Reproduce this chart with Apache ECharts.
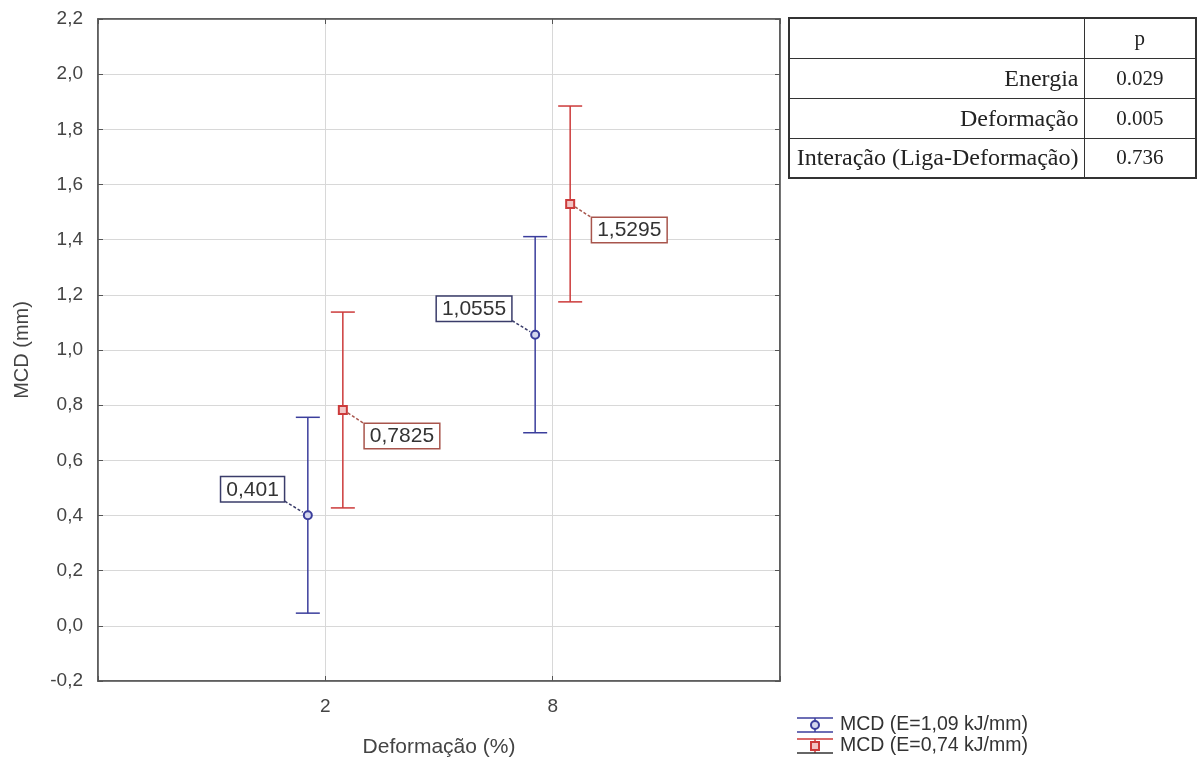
<!DOCTYPE html>
<html><head><meta charset="utf-8">
<script src="https://cdn.jsdelivr.net/npm/echarts@6/dist/echarts.min.js"></script>
<style>
html,body{margin:0;padding:0;background:#fff;}
#chart{position:absolute;left:0;top:0;width:1204px;height:763px;}
#tbl{position:absolute;left:788px;top:17px;width:409px;border-collapse:collapse;font-family:"Liberation Serif","Times New Roman",serif;color:#222;border:2px solid #333;}
#tbl td{border:1.5px solid #333;height:40px;padding:0 5px;box-sizing:border-box;white-space:nowrap;}
#tbl td.lab{text-align:right;width:295px;font-size:24px;}
#tbl td.val{text-align:center;font-size:21px;}
</style></head><body>
<div id="chart"></div>
<table id="tbl"></table>
<script>
// ---- data ----
const categories = ['2', '8'];
const seriesNames = ['MCD (E=1,09 kJ/mm)', 'MCD (E=0,74 kJ/mm)'];
const meanBlue = [0.401, 1.0555];
const lowBlue  = [0.046, 0.700];
const highBlue = [0.756, 1.411];
const meanRed  = [0.7825, 1.5295];
const lowRed   = [0.4275, 1.1745];
const highRed  = [1.1375, 1.8845];
const tableHeader = 'p';
const tableRows = ['Energia', 'Deformação', 'Interação (Liga-Deformação)'];
const tableP = ['0.029', '0.005', '0.736'];

// ---- table ----
const tbl = document.getElementById('tbl');
let html = '<tr><td class="lab"></td><td class="val">' + tableHeader + '</td></tr>';
tableRows.forEach((r, i) => { html += '<tr><td class="lab">' + r + '</td><td class="val">' + tableP[i] + '</td></tr>'; });
tbl.innerHTML = html;

// ---- chart ----
const BLUE = '#3b3e9c', RED = '#cc3a3a';
const BLUE_BOX = '#3a3c6a', RED_BOX = '#a8554c';
const OFFSET = 0.077;
const FONT = '"Liberation Sans", Arial, sans-serif';
const fmt = v => String(v).replace('.', ',');

function build(mean, low, high, dx) {
  return categories.map((c, i) => [i + 1 + dx, mean[i], low[i], high[i]]);
}

function makeRender(color, boxColor, shape, side) {
  return function (params, api) {
    const x = api.value(0), m = api.value(1), lo = api.value(2), hi = api.value(3);
    const p = api.coord([x, m]), pl = api.coord([x, lo]), ph = api.coord([x, hi]);
    const cw = 12;
    const ls = { stroke: color, lineWidth: 1.5 };
    const ch = [
      { type: 'line', shape: { x1: p[0], y1: pl[1], x2: p[0], y2: ph[1] }, style: ls },
      { type: 'line', shape: { x1: p[0] - cw, y1: pl[1], x2: p[0] + cw, y2: pl[1] }, style: ls },
      { type: 'line', shape: { x1: p[0] - cw, y1: ph[1], x2: p[0] + cw, y2: ph[1] }, style: ls }
    ];
    if (shape === 'circle') {
      ch.push({ type: 'circle', shape: { cx: p[0], cy: p[1], r: 4 }, style: { fill: '#d4d6ee', stroke: color, lineWidth: 2 } });
    } else {
      ch.push({ type: 'rect', shape: { x: p[0] - 4, y: p[1] - 4, width: 8, height: 8 }, style: { fill: '#f2c4c4', stroke: color, lineWidth: 2 } });
    }
    const dash = { stroke: boxColor, lineWidth: 1.5, lineDash: [3, 2] };
    const txt = { text: fmt(m), fill: '#333', font: '21px ' + FONT,
      backgroundColor: '#fff', borderColor: boxColor, borderWidth: 1.5, padding: [2, 5, 1, 5] };
    if (side === 'left') {
      ch.push({ type: 'line', shape: { x1: p[0] - 23, y1: p[1] - 14, x2: p[0] - 5, y2: p[1] - 3 }, style: dash });
      ch.push({ type: 'text', x: p[0] - 24, y: p[1] - 14, style: Object.assign({ align: 'right', verticalAlign: 'bottom' }, txt) });
    } else {
      ch.push({ type: 'line', shape: { x1: p[0] + 5, y1: p[1] + 3, x2: p[0] + 22, y2: p[1] + 14 }, style: dash });
      ch.push({ type: 'text', x: p[0] + 22, y: p[1] + 14, style: Object.assign({ align: 'left', verticalAlign: 'top' }, txt) });
    }
    return { type: 'group', children: ch };
  };
}

const axisCol = '#555';
const labelStyle = { color: '#444', fontSize: 19, fontFamily: FONT };
const chart = echarts.init(document.getElementById('chart'));

// legend graphics
const legendItems = seriesNames.map((name, i) => {
  const col = i === 0 ? BLUE : RED;
  const y0 = 718 + i * 21;
  const kids = [
    { type: 'line', shape: { x1: 797, y1: y0, x2: 833, y2: y0 }, style: { stroke: col, lineWidth: 1.5 } },
    { type: 'line', shape: { x1: 815, y1: y0, x2: 815, y2: y0 + 14 }, style: { stroke: col, lineWidth: 1.5 } },
    { type: 'line', shape: { x1: 797, y1: y0 + 14, x2: 833, y2: y0 + 14 }, style: { stroke: i === 0 ? col : '#333', lineWidth: 1.5 } },
    i === 0
      ? { type: 'circle', shape: { cx: 815, cy: y0 + 7, r: 4 }, style: { fill: '#d4d6ee', stroke: col, lineWidth: 2 } }
      : { type: 'rect', shape: { x: 811, y: y0 + 3, width: 8, height: 8 }, style: { fill: '#f2c4c4', stroke: col, lineWidth: 2 } },
    { type: 'text', x: 840, y: y0 + 7, style: { text: name, fill: '#333', font: '19.5px ' + FONT, verticalAlign: 'middle' } }
  ];
  return { type: 'group', children: kids };
});

chart.setOption({
  animation: false,
  backgroundColor: '#fff',
  grid: { left: 98, right: 424, top: 19, bottom: 81, show: true, borderColor: axisCol, borderWidth: 1.5 },
  xAxis: [
    { type: 'value', min: 0, max: 3, interval: 1, position: 'bottom',
      name: 'Deformação (%)', nameLocation: 'middle', nameGap: 56,
      nameTextStyle: { color: '#444', fontSize: 21, fontFamily: FONT },
      axisLine: { show: true, onZero: false, lineStyle: { color: axisCol, width: 1.5 } },
      axisTick: { show: true, inside: true, length: 5, lineStyle: { color: axisCol } },
      axisLabel: Object.assign({ margin: 16, formatter: v => categories[v - 1] || '' }, labelStyle),
      splitLine: { show: true, lineStyle: { color: '#d8d8d8', width: 1 } } },
    { type: 'value', min: 0, max: 3, interval: 1, position: 'top',
      axisLine: { show: true, onZero: false, lineStyle: { color: axisCol, width: 1.5 } },
      axisTick: { show: true, inside: true, length: 5, lineStyle: { color: axisCol } },
      axisLabel: { show: false }, splitLine: { show: false } }
  ],
  yAxis: [
    { type: 'value', min: -0.2, max: 2.2, interval: 0.2, position: 'left',
      name: 'MCD (mm)', nameLocation: 'middle', nameGap: 66, nameRotate: 90,
      nameTextStyle: { color: '#444', fontSize: 20, fontFamily: FONT },
      axisLine: { show: true, onZero: false, lineStyle: { color: axisCol, width: 1.5 } },
      axisTick: { show: true, inside: true, length: 5, lineStyle: { color: axisCol } },
      axisLabel: Object.assign({ margin: 15, formatter: v => v.toFixed(1).replace('.', ',') }, labelStyle),
      splitLine: { show: true, lineStyle: { color: '#d8d8d8', width: 1 } } },
    { type: 'value', min: -0.2, max: 2.2, interval: 0.2, position: 'right',
      axisLine: { show: true, onZero: false, lineStyle: { color: axisCol, width: 1.5 } },
      axisTick: { show: true, inside: true, length: 5, lineStyle: { color: axisCol } },
      axisLabel: { show: false }, splitLine: { show: false } }
  ],
  series: [
    { name: seriesNames[0], type: 'custom', xAxisIndex: 0, yAxisIndex: 0,
      renderItem: makeRender(BLUE, BLUE_BOX, 'circle', 'left'),
      data: build(meanBlue, lowBlue, highBlue, -OFFSET), encode: { x: 0, y: [1, 2, 3] } },
    { name: seriesNames[1], type: 'custom', xAxisIndex: 0, yAxisIndex: 0,
      renderItem: makeRender(RED, RED_BOX, 'square', 'right'),
      data: build(meanRed, lowRed, highRed, OFFSET), encode: { x: 0, y: [1, 2, 3] } }
  ],
  graphic: legendItems
});
</script>
</body></html>
